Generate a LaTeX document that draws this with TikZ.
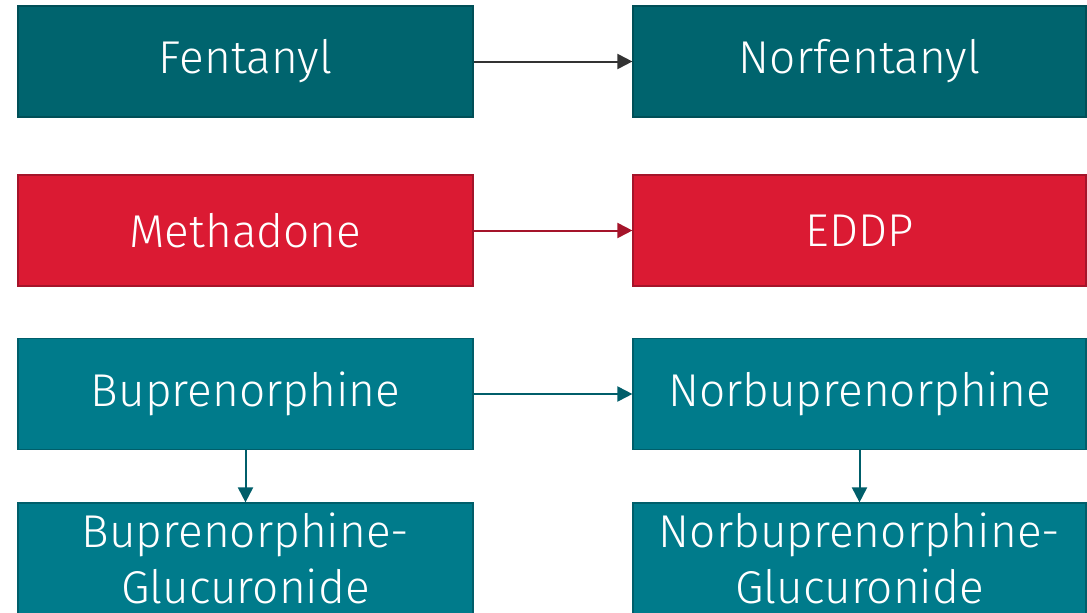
\documentclass[tikz,border=0pt]{standalone}
\usepackage{fontspec}
\setmainfont{Fira Sans Light}
\usetikzlibrary{arrows.meta}
\definecolor{fentfill}{HTML}{00646E}
\definecolor{fentline}{HTML}{004F57}
\definecolor{methfill}{HTML}{DB1A33}
\definecolor{methline}{HTML}{A5142A}
\definecolor{bupfill}{HTML}{007B8B}
\definecolor{bupline}{HTML}{005E6A}
\definecolor{greyarrow}{HTML}{333333}
\tikzset{
  drugbox/.style={draw, line width=1.2pt, minimum width=455pt, minimum height=111pt,
    inner sep=0pt, text=white, font=\fontsize{46}{56}\selectfont, align=center},
  fent/.style={drugbox, fill=fentfill, draw=fentline},
  meth/.style={drugbox, fill=methfill, draw=methline},
  bup/.style={drugbox, fill=bupfill, draw=bupline},
  link/.style={line width=2pt, -{Triangle[length=15pt,width=15pt]}}
}
\begin{document}
\begin{tikzpicture}[x=1pt,y=-1pt]
\useasboundingbox (0,0) rectangle (1087,613);
\begin{scope}
\clip (0,0) rectangle (1087,613);
\node[fent] (fentanyl) at (245.5,61.5) {Fentanyl};
\node[fent, minimum width=453pt] (norfentanyl) at (859.5,61.5) {Norfentanyl};
\node[meth] (methadone) at (245.5,230.5) {Methadone};
\node[meth, minimum width=453pt] (eddp) at (859.5,230.5) {EDDP};
\node[bup] (bup) at (245.5,394) {Buprenorphine};
\node[bup, minimum width=453pt] (norbup) at (859.5,394) {Norbuprenorphine};
\node[bup] (bupgluc) at (245.5,558.5) {Buprenorphine-\\Glucuronide};
\node[bup, minimum width=453pt] (norbupgluc) at (859.5,558.5) {Norbuprenorphine-\\Glucuronide};
\end{scope}
\draw[link, greyarrow] (fentanyl) -- (norfentanyl);
\draw[link, methline] (methadone) -- (eddp);
\draw[link, bupline] (bup) -- (norbup);
\draw[link, bupline] (bup.south) -- (bupgluc.north);
\draw[link, bupline] (norbup.south) -- (norbupgluc.north);
\end{tikzpicture}
\end{document}
